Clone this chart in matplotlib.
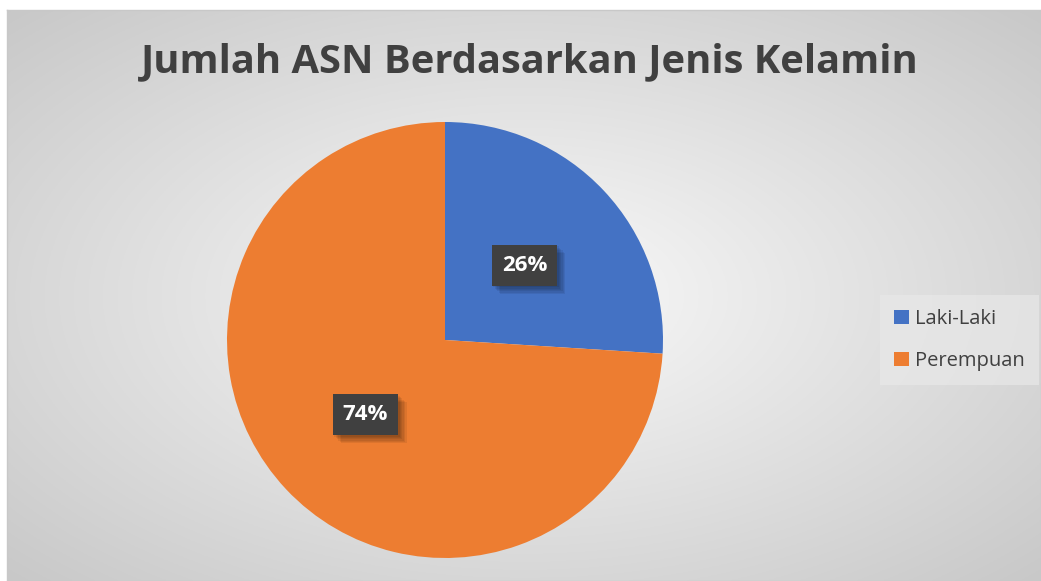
import numpy as np
import matplotlib.pyplot as plt
import matplotlib.patheffects as pe

# Data
kategori = ['Laki-Laki', 'Perempuan']
persen = [26, 74]
warna = ['#4472C4', '#ED7D31']
judul = 'Jumlah ASN Berdasarkan Jenis Kelamin'

W, H = 1041, 581
fig = plt.figure(figsize=(W / 100, H / 100), dpi=100)
fig.patch.set_facecolor('white')

# Chart area background with radial gradient
bg = fig.add_axes([7 / W, 0, (W - 7) / W, (H - 10) / H])
ny, nx = 300, 540
yy, xx = np.mgrid[0:ny, 0:nx]
cx, cy = nx * 0.5, ny * 0.5
r = np.sqrt(((xx - cx) / nx) ** 2 + ((yy - cy) / ny) ** 2) / 0.72
r = np.clip(r, 0, 1)
g = 0.98 - 0.2 * r
bg.imshow(np.dstack([g, g, g]), aspect='auto', extent=[0, 1, 0, 1], origin='upper')
bg.set_xlim(0, 1)
bg.set_ylim(0, 1)
bg.set_xticks([])
bg.set_yticks([])
for s in bg.spines.values():
    s.set_color('#c8c8c8')
    s.set_linewidth(1)

# Title
fig.text(530 / W, 1 - 62 / H, judul, ha='center', va='center',
         fontsize=28.7, fontweight='bold', color='#404040', family='Open Sans')

# Pie
R = 218
ax = fig.add_axes([(445 - R) / W, (H - 340 - R) / H, 2 * R / W, 2 * R / H])
wedges, _, autotexts = ax.pie(persen, colors=warna, startangle=90, counterclock=False,
                              autopct='%d%%', pctdistance=0.5, radius=1,
                              wedgeprops=dict(linewidth=0),
                              textprops=dict(color='white', fontsize=16, fontweight='bold',
                                             family='Open Sans'))
ax.set_xlim(-1, 1)
ax.set_ylim(-1, 1)
ax.set_aspect('equal')
ax.axis('off')

# label boxes with soft shadow
bayangan = [pe.SimplePatchShadow(offset=(o, -o), shadow_rgbFace='#000000', alpha=0.07)
            for o in (1, 2, 3, 4, 5, 6)]
for t in autotexts:
    t.set_bbox(dict(boxstyle='square,pad=0.45', facecolor='#404040', edgecolor='none'))
    t.get_bbox_patch().set_path_effects(bayangan + [pe.Normal()])

# Legend
leg = fig.legend(wedges, kategori, loc='center left',
                 bbox_to_anchor=(880 / W, 1 - 340 / H), frameon=True,
                 prop=dict(family='Open Sans', size=14.5), labelcolor='#404040',
                 handlelength=0.75, handleheight=0.75, handletextpad=0.3,
                 labelspacing=1.1, borderpad=0.7, borderaxespad=0, fancybox=False)
leg.get_frame().set_facecolor('#e8e8e8')
leg.get_frame().set_edgecolor('none')
leg.get_frame().set_alpha(0.7)
for h in leg.legend_handles:
    h.set_edgecolor('none')

fig.savefig('out.png', dpi=100)
